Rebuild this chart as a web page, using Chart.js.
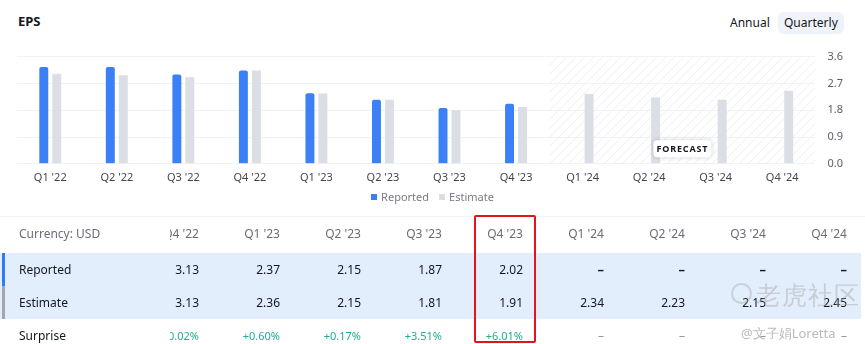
<!DOCTYPE html>
<html>
<head>
<meta charset="utf-8">
<script src="https://cdn.jsdelivr.net/npm/chart.js@4"></script>
<style>
  body { margin: 0; background: #fff; font-family: "Noto Sans", sans-serif; color: #131722; }
  #wrap { position: relative; width: 865px; height: 344px; overflow: hidden; }
  #title { position: absolute; left: 18px; top: 12px; font-size: 13px; font-weight: bold; }
  .tab { position: absolute; top: 12px; height: 22px; line-height: 22px; font-size: 12px; padding: 0 6px; border-radius: 6px; }
  #annual { left: 724px; }
  #quarterly { left: 778px; background: #eff2f8; }
  #chartBox { position: absolute; left: 0; top: 38px; width: 865px; height: 153px; }
  #legend { position: absolute; left: 0; top: 189px; width: 865px; text-align: center; font-size: 11px; color: #787b86; line-height: 16px; }
  #legend span.item { margin: 0 5px; }
  #legend i { display: inline-block; width: 6px; height: 6px; margin-right: 4px; vertical-align: 1px; }
  #table { position: absolute; left: 0; top: 216px; width: 865px; height: 128px; border-top: 1px solid #f2f3f6; }
  .row { position: absolute; left: 0; width: 861px; height: 33px; }
  .row.hl { background: #e3eefc; }
  .bar { position: absolute; left: 2px; top: 0; width: 3px; height: 33px; }
  .label { position: absolute; left: 19px; line-height: 33px; font-size: 12px; }
  #cols { position: absolute; left: 170px; top: 0; width: 695px; height: 128px; overflow: hidden; }
  .cell { position: absolute; width: 80px; text-align: right; line-height: 33px; font-size: 12px; }
  .head { color: #6a6d78; }
  .pos { color: #22ab94; font-size: 11px; }
  .dash { font-weight: bold; font-size: 13px; }
  .nil { color: #9598a1; }
  #mark { position: absolute; left: 474px; top: 215px; width: 58px; height: 124px; border: 2px solid #e3151b; border-radius: 2px; }
  #wm0 { position: absolute; left: 731px; top: 283px; width: 17px; height: 17px; border: 2px solid rgba(170,170,170,0.45); border-radius: 50%; }
  #wm1 { position: absolute; left: 756px; top: 277px; font-size: 25px; color: rgba(165,165,165,0.45); letter-spacing: 1px; }
  #wm2 { position: absolute; left: 741px; top: 324px; font-size: 13px; color: rgba(140,140,140,0.6); }
</style>
</head>
<body>
<div id="wrap">
  <div id="title">EPS</div>
  <div class="tab" id="annual">Annual</div>
  <div class="tab" id="quarterly">Quarterly</div>
  <div id="chartBox"><canvas id="epsChart"></canvas></div>
  <div id="legend"></div>
  <div id="table"></div>
  <div id="mark"></div>
  <div id="wm0"></div>
  <div id="wm1">老虎社区</div>
  <div id="wm2">@文子娟Loretta</div>
</div>
<script>
const quarters = ["Q1 '22", "Q2 '22", "Q3 '22", "Q4 '22", "Q1 '23", "Q2 '23", "Q3 '23", "Q4 '23", "Q1 '24", "Q2 '24", "Q3 '24", "Q4 '24"];
const reported = [3.25, 3.25, 3.00, 3.13, 2.37, 2.15, 1.87, 2.02, null, null, null, null];
const estimate = [3.02, 2.97, 2.91, 3.13, 2.36, 2.15, 1.81, 1.91, 2.34, 2.23, 2.15, 2.45];
// surprise in %, from Q4 '22 onwards (table starts there)
const tableStart = 3;
const surprise = [0.02, 0.60, 0.17, 3.51, 6.01, null, null, null, null];
const yTicks = [0, 0.9, 1.8, 2.7, 3.6];

const BLUE = "#3b80f6";
const GREY = "#dcdee6";

function forecastStart(scales) {
  const first = reported.findIndex(v => v === null);
  return (scales.x.getPixelForValue(first - 1) + scales.x.getPixelForValue(first)) / 2;
}

// striped background + label over the forecast quarters
const forecastZone = {
  id: "forecastZone",
  beforeDatasetsDraw(chart) {
    const { ctx, chartArea, scales } = chart;
    const x0 = forecastStart(scales);
    const x1 = chartArea.right;
    ctx.save();
    ctx.beginPath();
    ctx.rect(x0, chartArea.top, x1 - x0, chartArea.bottom - chartArea.top);
    ctx.clip();
    ctx.strokeStyle = "#eeeff3";
    ctx.lineWidth = 1;
    const h = chartArea.bottom - chartArea.top;
    for (let x = x0 - h; x < x1 + h; x += 9) {
      ctx.beginPath();
      ctx.moveTo(x, chartArea.bottom);
      ctx.lineTo(x + h, chartArea.top);
      ctx.stroke();
    }
    ctx.restore();
  },
  afterDatasetsDraw(chart) {
    const { ctx, chartArea, scales } = chart;
    const cx = (forecastStart(scales) + chartArea.right) / 2;
    const cy = chartArea.bottom - 15;
    const w = 58, h = 17;
    ctx.save();
    ctx.shadowColor = "rgba(0,0,0,0.18)";
    ctx.shadowBlur = 5;
    ctx.fillStyle = "#fff";
    ctx.beginPath();
    ctx.roundRect(cx - w / 2, cy - h / 2, w, h, 4);
    ctx.fill();
    ctx.shadowColor = "transparent";
    ctx.fillStyle = "#131722";
    ctx.font = "bold 9px 'Noto Sans'";
    ctx.letterSpacing = "0.8px";
    ctx.textAlign = "center";
    ctx.textBaseline = "middle";
    ctx.fillText("FORECAST", cx, cy + 0.5);
    ctx.restore();
  }
};

const chart = new Chart(document.getElementById("epsChart"), {
  type: "bar",
  data: {
    labels: quarters,
    datasets: [
      { label: "Reported", data: reported, backgroundColor: BLUE, borderRadius: { topLeft: 2, topRight: 2 }, borderSkipped: "bottom" },
      { label: "Estimate", data: estimate, backgroundColor: GREY, borderRadius: 0 }
    ]
  },
  options: {
    responsive: true,
    maintainAspectRatio: false,
    animation: false,
    categoryPercentage: 0.39,
    barPercentage: 0.69,
    layout: { padding: { left: 17, right: 10, top: 8, bottom: 0 } },
    plugins: {
      tooltip: { enabled: false },
      legend: { display: false }
    },
    scales: {
      x: {
        grid: { display: false, drawTicks: false },
        border: { display: false },
        ticks: { color: "#434651", font: { family: "Noto Sans", size: 11 }, maxRotation: 0, padding: 7 }
      },
      y: {
        position: "right",
        min: 0,
        max: 3.6,
        afterBuildTicks(axis) { axis.ticks = yTicks.map(v => ({ value: v })); },
        grid: { color: "#f1f2f5", drawTicks: false },
        border: { display: false },
        ticks: {
          color: "#5d606b",
          padding: 12,
          font: { family: "Noto Sans", size: 11 },
          callback: v => v.toFixed(1)
        }
      }
    }
  },
  plugins: [forecastZone]
});

// legend below the chart, built from the datasets
const legendEl = document.getElementById("legend");
chart.data.datasets.forEach(ds => {
  const item = document.createElement("span");
  item.className = "item";
  const sw = document.createElement("i");
  sw.style.background = ds.backgroundColor;
  item.appendChild(sw);
  item.appendChild(document.createTextNode(ds.label));
  legendEl.appendChild(item);
});

// table under the chart
const table = document.getElementById("table");
const rowTops = [0, 36, 69, 102];

function addRow(top, name, hl, barColor) {
  const r = document.createElement("div");
  r.className = "row" + (hl ? " hl" : "");
  r.style.top = top + "px";
  if (barColor) {
    const b = document.createElement("div");
    b.className = "bar";
    b.style.background = barColor;
    r.appendChild(b);
  }
  const l = document.createElement("div");
  l.className = "label" + (name.startsWith("Currency") ? " head" : "");
  l.textContent = name;
  r.appendChild(l);
  table.appendChild(r);
}
addRow(rowTops[0], "Currency: USD", false, null);
addRow(rowTops[1], "Reported", true, "#2f7cf6");
addRow(rowTops[2], "Estimate", true, "#a3a6af");
addRow(rowTops[3], "Surprise", false, null);

const cols = document.createElement("div");
cols.id = "cols";
table.appendChild(cols);

const colWidth = 81;
const firstRight = 29; // right edge of the first column inside the clip
function addCell(i, top, text, cls) {
  const c = document.createElement("div");
  c.className = "cell" + (cls ? " " + cls : "");
  c.style.top = top + "px";
  c.style.left = (firstRight + i * colWidth - 80) + "px";
  c.textContent = text;
  cols.appendChild(c);
}
for (let i = 0; i < quarters.length - tableStart; i++) {
  const k = i + tableStart;
  addCell(i, rowTops[0], quarters[k], "head");
  addCell(i, rowTops[1], reported[k] == null ? "–" : reported[k].toFixed(2), reported[k] == null ? "dash" : null);
  addCell(i, rowTops[2], estimate[k] == null ? "–" : estimate[k].toFixed(2), estimate[k] == null ? "dash" : null);
  const s = surprise[i];
  addCell(i, rowTops[3], s == null ? "–" : (s >= 0 ? "+" : "") + s.toFixed(2) + "%", s == null ? "nil" : "pos");
}
</script>
</body>
</html>
